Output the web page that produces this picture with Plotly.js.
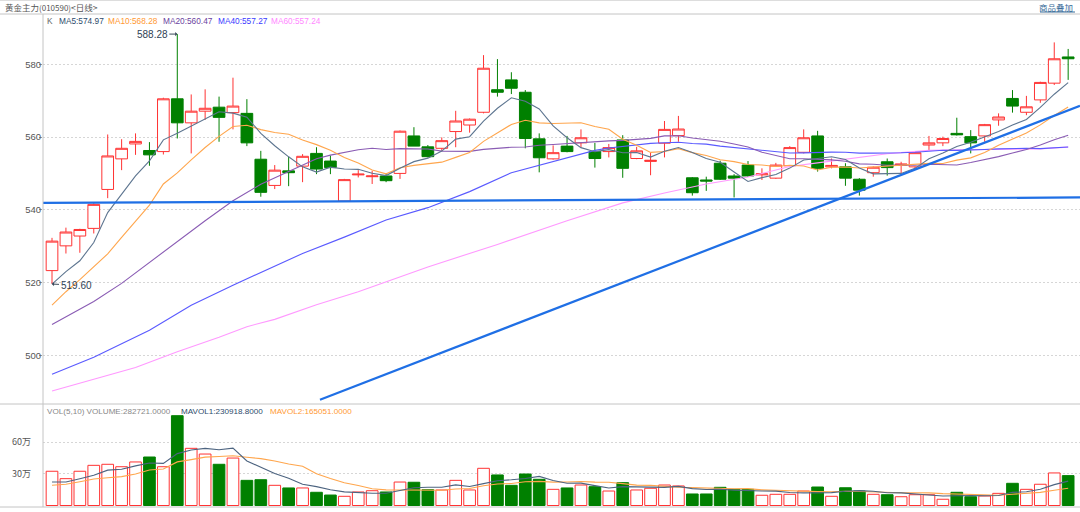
<!DOCTYPE html>
<html><head><meta charset="utf-8">
<script src="https://cdn.plot.ly/plotly-3.0.1.min.js"></script>
<style>html,body{margin:0;padding:0;background:#fff}</style>
</head><body><div id="chart" style="width:1080px;height:512px"></div>
<script>
// ---- price data (one value per daily candle) ----
const openP  = [523.3,530.1,532.8,534.9,545.6,554.0,558.1,556.3,556.0,570.5,563.9,567.1,568.2,566.7,566.5,553.9,546.7,550.7,552.0,555.5,
                553.4,542.4,549.6,549.1,549.3,550.0,560.3,557.3,556.9,561.5,563.3,566.8,573.0,575.7,572.3,559.5,554.0,557.5,558.4,556.0,
                556.0,559.2,554.1,553.3,558.3,560.4,548.8,548.2,552.8,549.3,552.3,549.6,548.7,552.1,555.8,560.3,551.8,551.8,548.4,550.2,
                553.2,552.2,551.8,557.8,558.4,561.0,560.1,560.3,564.7,570.6,566.8,570.2,574.8,582.0];
const highP  = [532.3,535.1,534.8,541.8,560.7,559.4,561.0,558.6,570.8,588.28,571.7,573.1,571.1,576.3,570.4,556.2,552.3,554.6,555.3,557.2,
                554.9,548.5,550.9,550.7,550.0,561.8,562.7,557.8,559.9,567.2,565.1,582.5,581.4,577.8,572.9,561.0,557.7,560.3,562.1,558.4,
                558.1,560.5,557.3,555.7,564.4,565.8,549.0,549.1,553.5,549.8,553.4,551.4,552.9,557.5,562.1,561.7,554.1,552.8,548.7,551.9,
                554.1,553.2,555.9,560.3,560.1,565.3,561.9,563.6,566.5,572.9,571.3,575.2,586.0,584.2];
const lowP   = [519.6,528.0,528.2,533.5,543.2,550.9,555.1,552.1,555.2,559.6,555.5,564.7,558.7,562.1,557.5,543.6,545.7,546.5,547.6,549.8,
                549.8,542.2,548.9,547.1,547.6,548.5,557.5,554.4,556.2,557.2,561.2,566.5,571.1,571.8,556.9,550.3,553.8,555.8,557.2,551.6,
                554.4,548.8,553.9,549.5,554.4,558.7,543.9,545.2,548.2,543.4,549.1,548.2,548.5,551.9,555.5,550.5,551.4,546.6,543.9,549.1,
                549.4,550.0,551.2,556.2,557.5,560.4,555.5,558.7,563.1,566.7,566.0,569.4,574.3,575.7];
const closeP = [531.4,533.9,534.6,541.5,554.8,556.9,558.8,555.1,570.5,563.9,567.1,567.9,565.4,568.5,558.4,544.8,550.9,550.2,554.7,551.2,
                551.6,548.3,549.8,549.3,548.0,561.6,557.5,554.6,559.0,564.4,564.9,578.9,572.3,573.4,559.6,554.3,555.7,556.0,559.8,554.1,
                557.1,551.4,556.2,553.6,562.1,562.2,544.7,547.9,548.4,548.7,549.3,549.9,552.3,557.1,559.8,551.4,552.2,548.7,545.4,551.7,
                551.6,552.6,555.7,558.4,559.6,560.6,558.4,563.4,565.5,568.5,568.3,575.0,581.5,581.5];
// volume in 万 (10k contracts)
const volumeWan = [32.4,25.4,32.4,38.0,39.0,36.7,41.2,45.9,36.7,85.0,54.1,48.7,39.0,44.9,23.8,24.4,19.1,16.6,16.6,12.5,
                   9.9,8.7,12.8,14.0,12.8,22.2,22.0,15.0,14.7,23.8,14.7,35.2,28.9,19.1,29.8,24.8,15.3,16.6,19.4,17.8,
                   13.7,21.6,14.7,16.3,19.4,18.5,10.9,10.9,17.2,15.3,15.3,9.7,10.6,10.6,13.7,17.5,8.7,16.8,13.7,10.6,
                   10.2,8.3,10.2,10.2,5.9,12.5,8.3,9.0,11.5,21.0,15.3,20.1,30.8,28.27];

// moving-average values before enough visible history exists
const ma5LeadIdx  = [0,1,2,3];           const ma5LeadVal  = [519.6,523.0,526.0,531.0];
const ma10LeadIdx = [0,1,2,3,4,5,6,7,8]; const ma10LeadVal = [513.8,517.5,520.8,524.4,527.9,532.4,536.8,541.3,547.1];
const ma20LeadIdx = [0,3,5,8,11,13,15,17,18];
const ma20LeadVal = [508.5,514.8,519.8,528.5,537.0,542.5,547.0,550.5,552.3];
const ma40LeadIdx = [0,3,7,10,13,18,21,24,27,30,33,35,38];
const ma40LeadVal = [494.8,499.5,506.9,513.8,519.3,528.0,532.5,537.2,540.6,545.0,550.2,552.3,555.3];
const ma60LeadIdx = [0,3,6,9,12,14,16,19,22,27,32,37,39,41,44,47,50,53,55,58];
const ma60LeadVal = [490.2,493.4,496.7,501.0,505.0,507.9,509.9,513.9,517.5,524.3,530.5,537.0,539.4,541.9,544.6,547.1,549.0,551.9,552.9,554.5];
const mavol1LeadIdx = [0,1,2,3];               const mavol1LeadVal = [22.2,22.2,25.4,28.6];
const mavol2LeadIdx = [0,1,2,3,4,5,6,7,8];     const mavol2LeadVal = [19.1,20.1,22.5,25.1,26.3,27.3,29.8,33.6,34.5];

// hand-drawn trend lines on the chart: [x0 index, y0 price, x1 index, y1 price]
const trendLines = [[-0.647,541.9,73.85,543.4],[19.25,487.8,73.85,568.6]];

const priceTicks = [500,520,540,560,580];
const volTicks = [30,60];
const volTickText = ['30万','60万'];

// legend texts
const maLegend = [
  {t:'K', c:'#666666', x:45},
  {t:'MA5:574.97', c:'#2d4a6b', x:57},
  {t:'MA10:568.28', c:'#ff9933', x:106},
  {t:'MA20:560.47', c:'#6b3fa0', x:161},
  {t:'MA40:557.27', c:'#3a3aff', x:216},
  {t:'MA60:557.24', c:'#ff88ff', x:269}
];
const volLegend = [
  {t:'VOL(5,10) VOLUME:282721.0000', c:'#888888', x:45},
  {t:'MAVOL1:230918.8000', c:'#2d4a6b', x:179},
  {t:'MAVOL2:165051.0000', c:'#ff9933', x:268}
];

// ---- helpers ----
const idx = closeP.map((_, i) => i);
function rollingMean(values, n) {
  const out = [];
  for (let i = n - 1; i < values.length; i++) {
    let s = 0; for (let k = i - n + 1; k <= i; k++) s += values[k];
    out.push([i, s / n]);
  }
  return out;
}
function maSeries(leadIdx, leadVal, values, n) {
  const pts = leadIdx.map((x, k) => [x, leadVal[k]]).concat(rollingMean(values, n));
  return {x: pts.map(p => p[0]), y: pts.map(p => p[1])};
}
const W = 1080, H = 512, L = 43, T = 14, B = 5;
const pw = W - L, ph = H - T - B;
const px = v => (v - L) / pw;
const py = v => (H - B - v) / ph;
const splitY = py(404);

const up = idx.map(i => closeP[i] >= openP[i]);
const RED = '#ff3333', GREEN = '#008000';

const traces = [];
traces.push({
  type:'candlestick', x: idx, open: openP, high: highP, low: lowP, close: closeP,
  increasing:{line:{color:RED, width:1}, fillcolor:'#ffffff'},
  decreasing:{line:{color:GREEN, width:1}, fillcolor:GREEN},
  whiskerwidth:0, hoverinfo:'skip', xaxis:'x', yaxis:'y'
});
const maDefs = [
  [ma60LeadIdx, ma60LeadVal, 60, '#ff99ff'],
  [ma40LeadIdx, ma40LeadVal, 40, '#5a5aff'],
  [ma20LeadIdx, ma20LeadVal, 20, '#8a5cb4'],
  [ma10LeadIdx, ma10LeadVal, 10, '#ffa64d'],
  [ma5LeadIdx,  ma5LeadVal,  5,  '#5d7590']
];
maDefs.forEach(d => {
  const s = maSeries(d[0], d[1], closeP, d[2]);
  traces.push({type:'scatter', mode:'lines', x:s.x, y:s.y, line:{color:d[3], width:1.1},
    hoverinfo:'skip', xaxis:'x', yaxis:'y'});
});
traces.push({
  type:'bar', x: idx, y: volumeWan, width:0.84,
  marker:{color: up.map(u => u ? '#ffffff' : GREEN), line:{color: up.map(u => u ? RED : GREEN), width:1}},
  hoverinfo:'skip', xaxis:'x2', yaxis:'y2'
});
[[mavol2LeadIdx, mavol2LeadVal, 10, '#ffa64d'], [mavol1LeadIdx, mavol1LeadVal, 5, '#4d6480']].forEach(d => {
  const s = maSeries(d[0], d[1], volumeWan, d[2]);
  traces.push({type:'scatter', mode:'lines', x:s.x, y:s.y, line:{color:d[3], width:1.1},
    hoverinfo:'skip', xaxis:'x2', yaxis:'y2'});
});

const xr = [-0.647, 73.85];
const gridStyle = {showgrid:true, gridcolor:'#d6d6d6', griddash:'2px,2px', gridwidth:1, zeroline:false};

const shapes = [];
trendLines.forEach(t => shapes.push({type:'line', xref:'x', yref:'y', x0:t[0], y0:t[1], x1:t[2], y1:t[3],
  line:{color:'#1f6fe5', width:2.2}}));
const frame = '#c4c4c4';
shapes.push({type:'line', xref:'paper', yref:'paper', x0:px(0), x1:1, y0:py(0.5), y1:py(0.5), line:{color:'#dddddd', width:1}});
shapes.push({type:'line', xref:'paper', yref:'paper', x0:px(0), x1:1, y0:1, y1:1, line:{color:frame, width:1}});
shapes.push({type:'line', xref:'paper', yref:'paper', x0:px(0), x1:1, y0:splitY, y1:splitY, line:{color:frame, width:1}});
shapes.push({type:'line', xref:'paper', yref:'paper', x0:px(0), x1:1, y0:0, y1:0, line:{color:frame, width:1}});
shapes.push({type:'line', xref:'paper', yref:'paper', x0:0, x1:0, y0:0, y1:1, line:{color:frame, width:1}});
// underline for the link text
shapes.push({type:'line', xref:'paper', yref:'paper', x0:px(1040), x1:px(1075), y0:py(12), y1:py(12), line:{color:'#3a6d99', width:1}});

const annotations = [];
const txtFont = 'Liberation Sans, Arial, sans-serif';
annotations.push({xref:'paper', yref:'paper', x:px(3), y:py(7.5), xanchor:'left', yanchor:'middle', showarrow:false,
  text:'黄金主力<span style="font-size:8px">(010590)</span>&lt;日线&gt;', font:{family:'Noto Sans CJK SC, sans-serif', size:8.5, color:'#555555'}});
annotations.push({xref:'paper', yref:'paper', x:px(1075), y:py(7.5), xanchor:'right', yanchor:'middle', showarrow:false,
  text:'商品叠加', font:{family:'Noto Sans CJK SC, sans-serif', size:8.5, color:'#3a6d99'}});
maLegend.forEach(m => annotations.push({xref:'paper', yref:'paper', x:px(m.x), y:py(21), xanchor:'left', yanchor:'middle',
  showarrow:false, text:m.t, font:{family:txtFont, size:8.3, color:m.c}}));
volLegend.forEach(m => annotations.push({xref:'paper', yref:'paper', x:px(m.x), y:py(411.5), xanchor:'left', yanchor:'middle',
  showarrow:false, text:m.t, font:{family:txtFont, size:8.1, color:m.c}}));
// extreme labels
const hiVal = Math.max(...highP), hiIdx = highP.indexOf(hiVal);
const loVal = Math.min(...lowP), loIdx = lowP.indexOf(loVal);
annotations.push({xref:'x', yref:'y', x:hiIdx, y:hiVal, text:hiVal.toFixed(2), showarrow:true, ax:-25, ay:0,
  arrowhead:1, arrowsize:0.7, arrowwidth:1, arrowcolor:'#3a4a5a', standoff:0, font:{family:txtFont, size:10, color:'#2f3f55'}});
annotations.push({xref:'x', yref:'y', x:loIdx, y:loVal, text:loVal.toFixed(2), showarrow:true, ax:24, ay:1,
  arrowhead:1, arrowsize:0.7, arrowwidth:1, arrowcolor:'#3a4a5a', standoff:0, font:{family:txtFont, size:10, color:'#2f3f55'}});

const layout = {
  width:W, height:H, margin:{l:L, r:0, t:T, b:B, pad:0},
  paper_bgcolor:'#ffffff', plot_bgcolor:'#ffffff', showlegend:false,
  boxgap:0.16, boxgroupgap:0, bargap:0,
  xaxis:{domain:[0,1], range:xr, anchor:'y', showticklabels:false, showgrid:false, zeroline:false, showline:false,
    ticks:'', rangeslider:{visible:false}, fixedrange:true},
  yaxis:Object.assign({domain:[splitY,1], range:[486.65,593.8], anchor:'x', tickvals:priceTicks, ticks:'outside',
    ticklen:3, tickcolor:'#999999', ticklabelstandoff:-4, tickfont:{family:txtFont, size:9.5, color:'#555555'}, showline:false, fixedrange:true}, gridStyle),
  xaxis2:{domain:[0,1], range:xr, anchor:'y2', showticklabels:false, showgrid:false, zeroline:false, showline:false, ticks:'',
    rangeslider:{visible:false}, fixedrange:true},
  yaxis2:Object.assign({domain:[0,splitY], range:[-1.42,96.05], anchor:'x2', tickvals:volTicks, ticktext:volTickText, ticks:'',
    ticklabelstandoff:11, tickfont:{family:'Noto Sans CJK SC, sans-serif', size:9, color:'#555555'}, showline:false, fixedrange:true}, gridStyle),
  shapes:shapes, annotations:annotations
};
Plotly.newPlot('chart', traces, layout, {displayModeBar:false, staticPlot:true});
</script></body></html>
